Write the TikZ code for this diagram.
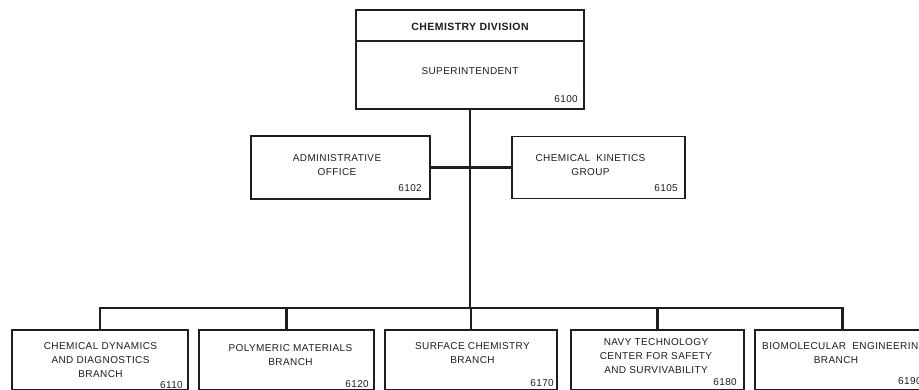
\documentclass[tikz,border=0pt]{standalone}
\usepackage{fontspec}
\setmainfont{Liberation Sans}
\newfontfamily\orgfont[LetterSpace=4]{Liberation Sans}
\definecolor{ink}{RGB}{30,30,30}
\tikzset{
  box/.style={draw=ink, line width=1.5pt, inner sep=0pt},
  lbl/.style={font=\orgfont\fontsize{10}{14}\selectfont, align=center, inner sep=0pt, text=ink, anchor=north},
  num/.style={font=\orgfont\fontsize{10}{14}\selectfont, inner sep=0pt, text=ink, anchor=base east},
  conn/.style={draw=ink, line width=2.2pt, line join=miter}
}
\begin{document}
\begin{tikzpicture}[x=1pt,y=-1pt]
\fill[white] (0,0) rectangle (919,390);
\clip (0,0) rectangle (919,390);
% top box
\node[box, minimum width=228pt, minimum height=99pt] (div) at (470,59.5) {};
\coordinate (dv) at (0,41);
\draw[box] (div.west |- dv) -- (div.east |- dv);
\node[lbl, font=\orgfont\bfseries\fontsize{10.5}{14}\selectfont] (divt) at (470,23) {CHEMISTRY DIVISION};
\node[lbl] (sup) at (470,67.5) {SUPERINTENDENT};
\node[num] (n6100) at (578,102.5) {6100};
% staff boxes
\node[box, minimum width=179pt, minimum height=63pt] (adm) at (340.5,167.5) {};
\node[lbl] (admt) at (337,154.5) {ADMINISTRATIVE\\OFFICE};
\node[num] (n6102) at (422,191.5) {6102};
\node[box, minimum width=173pt, minimum height=62pt] (kin) at (598.5,167.5) {};
\node[lbl] (kint) at (590.5,154.5) {CHEMICAL\ \ KINETICS\\GROUP};
\node[num] (n6105) at (678,191.5) {6105};
% branch boxes
\node[box, minimum width=176pt, minimum height=59.5pt] (b1) at (100,359.75) {};
\node[box, minimum width=175pt, minimum height=59.5pt] (b2) at (286.5,359.75) {};
\node[box, minimum width=172pt, minimum height=59.5pt] (b3) at (471,359.75) {};
\node[box, minimum width=173pt, minimum height=59.5pt] (b4) at (657.5,359.75) {};
\node[box, minimum width=175pt, minimum height=59.5pt] (b5) at (842.5,359.75) {};
\node[lbl] (b1t) at (100.5,342.5) {CHEMICAL DYNAMICS\\AND DIAGNOSTICS\\BRANCH};
\node[num] (n6110) at (183,388.5) {6110};
\node[lbl] (b2t) at (290.5,344.5) {POLYMERIC MATERIALS\\BRANCH};
\node[num] (n6120) at (369,387.5) {6120};
\node[lbl] (b3t) at (472.5,342.5) {SURFACE CHEMISTRY\\BRANCH};
\node[num] (n6170) at (554,386.5) {6170};
\node[lbl] (b4t) at (656,338.5) {NAVY TECHNOLOGY\\CENTER FOR SAFETY\\AND SURVIVABILITY};
\node[num] (n6180) at (737,385.5) {6180};
\node[lbl, anchor=north west] (b5t) at (762,342.5) {BIOMOLECULAR\ \ ENGINEERING};
\node[lbl] (b5u) at (836,356.5) {BRANCH};
\node[num, anchor=base west] (n6190) at (898,384.5) {6190};
% connectors
\coordinate (bus) at (470,308);
\draw[conn] (div.south) -- (div.south |- bus);
\draw[conn] (adm.east) -- (kin.west);
\draw[conn] (b1.north) -- (b1.north |- bus) -- (b5.north |- bus) -- (b5.north);
\foreach \b in {b2,b3,b4} \draw[conn] (\b.north) -- (\b.north |- bus);
\end{tikzpicture}
\end{document}
